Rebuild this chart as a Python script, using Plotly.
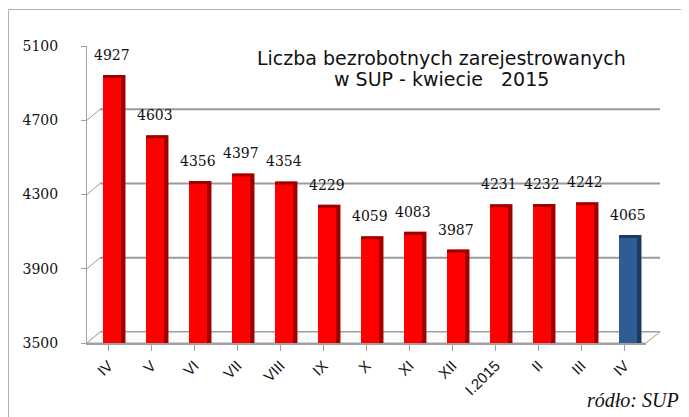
import plotly.graph_objects as go

months = ["IV", "V", "VI", "VII", "VIII", "IX", "X", "XI", "XII", "I.2015", "II", "III", "IV"]
values = [4927, 4603, 4356, 4397, 4354, 4229, 4059, 4083, 3987, 4231, 4232, 4242, 4065]
y_ticks = [3500, 3900, 4300, 4700, 5100]

pos = list(range(len(months)))
front_colors = ["#ff0000"] * (len(values) - 1) + ["#2f5d93"]
side_colors = ["#a00000"] * (len(values) - 1) + ["#1c3a60"]
top_colors = ["#ff5050"] * (len(values) - 1) + ["#5a83b5"]

W, H = 681, 409
L, R, T, B = 79, 43, 38, 74
pw, ph = W - L - R, H - T - B
YMIN, YMAX = 3500, 5100
upp = (YMAX - YMIN) / ph          # data units per pixel
DX, DY = 13, 11                    # 3D depth offset of the back wall (px)
dxp, dyv = DX / pw, DY * upp

fig = go.Figure()
# top face hint (slightly taller, lighter, shifted)
fig.add_trace(go.Bar(
    x=pos, y=[v - YMIN + 3 * upp for v in values], base=YMIN,
    width=0.48, offset=-0.09,
    marker=dict(color=top_colors, line=dict(width=0)),
    hoverinfo="skip", showlegend=False,
))
# side face (depth)
fig.add_trace(go.Bar(
    x=pos, y=[v - YMIN + 3 * upp for v in values], base=YMIN,
    width=0.52, offset=-0.128,
    marker=dict(color=side_colors, line=dict(width=0)),
    hoverinfo="skip", showlegend=False,
))
# front face
fig.add_trace(go.Bar(
    x=pos, y=[v - YMIN for v in values], base=YMIN,
    width=0.42, offset=-0.128,
    marker=dict(color=front_colors, line=dict(width=0)),
    showlegend=False,
))

shapes = []
# back wall gridlines + connectors from the front axis
for t in y_ticks:
    shapes.append(dict(type="line", xref="paper", yref="y", x0=dxp, x1=1 + (DX + 1) / pw,
                       y0=t + dyv, y1=t + dyv, line=dict(color="#9a9a9a", width=2), layer="below"))
    shapes.append(dict(type="line", xref="paper", yref="y", x0=0, x1=dxp,
                       y0=t, y1=t + dyv, line=dict(color="#9a9a9a", width=1), layer="below"))
# floor outline
shapes.append(dict(type="path", xref="paper", yref="paper",
                   path=f"M 0 0 L {dxp} {DY / ph} L {1 + (DX + 1) / pw} {DY / ph} L 1 0 Z",
                   line=dict(color="#a0a0a0", width=1), fillcolor="#fbfbfb", layer="below"))
# outer frame
shapes.append(dict(type="rect", xref="paper", yref="paper",
                   x0=(0.5 - L) / pw, x1=(W + 5 - L) / pw,
                   y0=-(B + 5) / ph, y1=1 + (T - 1.5) / ph,
                   line=dict(color="#b0b0b0", width=1), fillcolor="rgba(0,0,0,0)", layer="above"))

annotations = [
    dict(x=p + 0.09, y=v, yshift=13, text=str(v), showarrow=False, yanchor="bottom",
         xanchor="center", font=dict(family="DejaVu Serif", size=14, color="#111"))
    for p, v in zip(pos, values)
]
annotations += [
    dict(text="Liczba bezrobotnych zarejestrowanych", xref="paper", yref="paper",
         x=(433 - L) / pw, y=1 + (T - 50) / ph, xanchor="center", yanchor="middle",
         showarrow=False, font=dict(family="DejaVu Sans", size=19, color="#111")),
    dict(text="w SUP - kwiecie   2015", xref="paper", yref="paper",
         x=(433 - L) / pw, y=1 + (T - 71) / ph, xanchor="center", yanchor="middle",
         showarrow=False, font=dict(family="DejaVu Sans", size=19, color="#111")),
    dict(text="<i>ródło: SUP</i>", xref="paper", yref="paper", x=(673 - L) / pw, y=-(392 - T - ph) / ph,
         xanchor="right", yanchor="middle", showarrow=False,
         font=dict(family="Liberation Serif", size=20, color="#111")),
]

fig.update_layout(
    barmode="overlay",
    width=W, height=H,
    margin=dict(l=L, r=R, t=T, b=B),
    paper_bgcolor="white", plot_bgcolor="rgba(0,0,0,0)",
    xaxis=dict(
        tickmode="array", tickvals=pos, ticktext=months, tickangle=-45,
        range=[-0.5, len(months) - 0.5],
        tickfont=dict(family="Liberation Sans", size=15, color="#111"),
        showgrid=False, showline=True, linecolor="#a0a0a0", linewidth=2,
        ticks="outside", ticklen=6, tickcolor="#a0a0a0", tickson="boundaries",
    ),
    yaxis=dict(
        range=[YMIN, YMAX], tickvals=y_ticks,
        tickfont=dict(family="DejaVu Serif", size=14, color="#111"),
        showgrid=False,
        showline=True, linecolor="#a0a0a0", linewidth=1,
        ticks="outside", ticklen=5, tickcolor="#a0a0a0",
        ticklabelstandoff=20,
        zeroline=False,
    ),
    shapes=shapes,
    annotations=annotations,
)

fig.write_html("out.html")
